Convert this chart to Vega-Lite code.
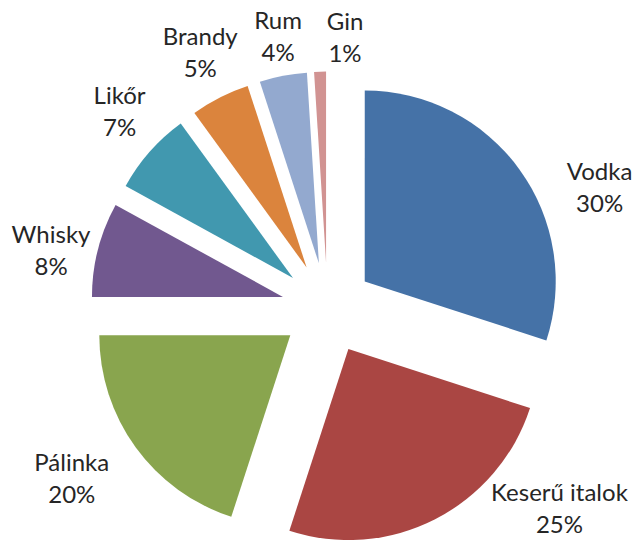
{
  "$schema": "https://vega.github.io/schema/vega-lite/v6.json",
  "width": 638,
  "height": 540,
  "autosize": {"type": "fit", "contains": "padding"},
  "padding": 0,
  "background": "white",
  "config": {"view": {"stroke": null}},
  "data": {
    "values": [
      {"ital": "Vodka", "share": 30},
      {"ital": "Keserű italok", "share": 25},
      {"ital": "Pálinka", "share": 20},
      {"ital": "Whisky", "share": 8},
      {"ital": "Likőr", "share": 7},
      {"ital": "Brandy", "share": 5},
      {"ital": "Rum", "share": 4},
      {"ital": "Gin", "share": 1}
    ]
  },
  "transform": [
    {"window": [{"op": "sum", "field": "share", "as": "cum"}], "sort": [{"field": "share", "order": "descending"}], "frame": [null, 0]},
    {"joinaggregate": [{"op": "sum", "field": "share", "as": "total"}]},
    {"calculate": "(datum.cum - datum.share) / datum.total * 100", "as": "p0"},
    {"calculate": "datum.cum / datum.total * 100", "as": "p1"},
    {"calculate": "(datum.p0 + datum.p1) / 2", "as": "pm"},
    {"calculate": "sin(datum.pm / 100 * 2 * PI)", "as": "ux"},
    {"calculate": "cos(datum.pm / 100 * 2 * PI)", "as": "uy"},
    {"calculate": "datum.ital + '\\n' + datum.share + '%'", "as": "lbl"}
  ],
  "encoding": {
    "x": {"field": "ux", "type": "quantitative", "scale": {"domain": [-7.12, 6.75], "nice": false, "zero": false}, "axis": null},
    "y": {"field": "uy", "type": "quantitative", "scale": {"domain": [-5.0, 6.74], "nice": false, "zero": false}, "axis": null}
  },
  "layer": [
    {
      "mark": {"type": "arc", "outerRadius": 191, "innerRadius": 0},
      "encoding": {
        "theta": {"field": "p0", "type": "quantitative", "stack": null, "scale": {"domain": [0, 100]}},
        "theta2": {"field": "p1"},
        "color": {
          "field": "ital",
          "type": "nominal",
          "scale": {
            "domain": ["Vodka", "Keserű italok", "Pálinka", "Whisky", "Likőr", "Brandy", "Rum", "Gin"],
            "range": ["#4572A7", "#AA4643", "#89A54E", "#71588F", "#4198AF", "#DB843D", "#93A9CF", "#D19392"]
          },
          "legend": null
        }
      }
    },
    {
      "mark": {"type": "text", "font": "Lato", "fontSize": 24, "color": "#262626", "lineBreak": "\n", "lineHeight": 32, "align": "center", "baseline": "middle", "dy": -12},
      "encoding": {
        "theta": {"field": "pm", "type": "quantitative", "stack": null, "scale": {"type": "linear", "domain": [0, 15, 42.5, 65, 79, 86.5, 92.5, 97, 100], "range": [0, 1.18, 2.21, 4.14, 4.92, 5.484, 5.828, 6.107, 6.418]}},
        "radius": {"field": "pm", "type": "quantitative", "scale": {"type": "linear", "zero": false, "domain": [0, 15, 42.5, 65, 79, 86.5, 92.5, 97, 100], "range": [250, 254, 263, 260, 237, 242, 242, 233, 228]}},
        "text": {"field": "lbl", "type": "nominal"}
      }
    }
  ],
  "resolve": {"scale": {"theta": "independent"}}
}
